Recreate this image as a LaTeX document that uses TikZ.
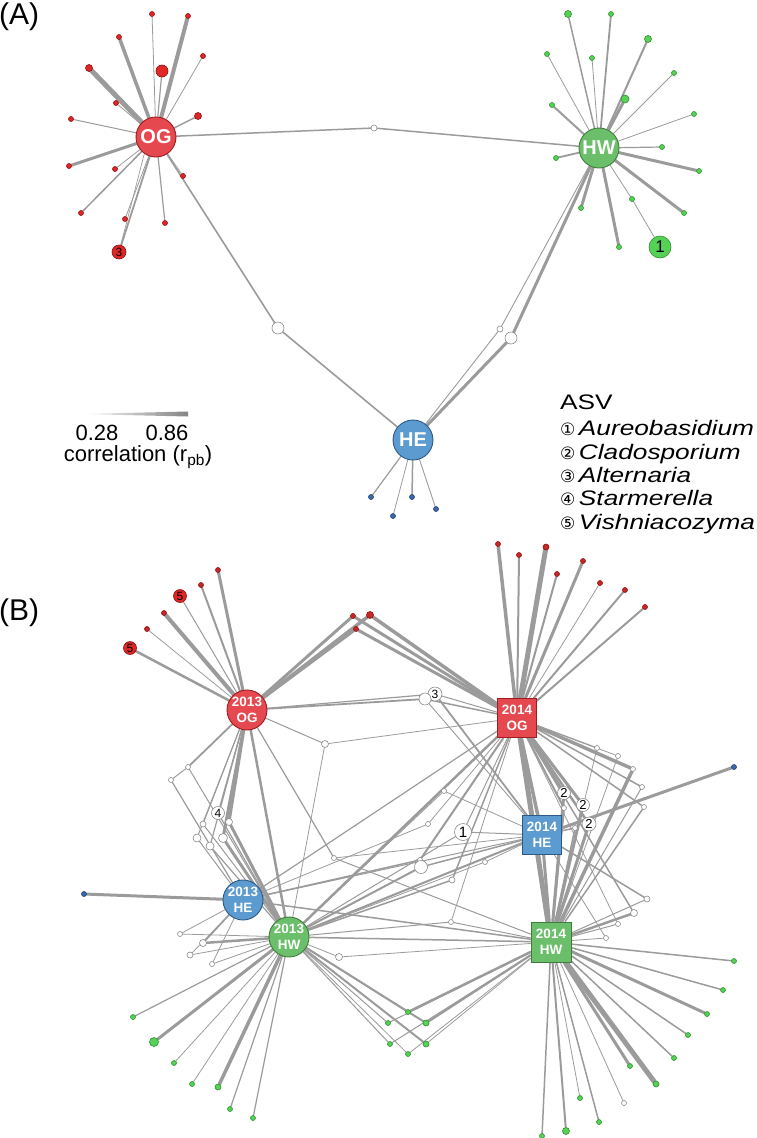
\documentclass[tikz,border=0pt]{standalone}
\usepackage{fontspec}
\setmainfont{Liberation Sans}
\newfontfamily\dejavu{DejaVu Sans}
\newfontfamily\legfont[FakeStretch=1.25]{Liberation Sans}
\pgfdeclarelayer{bg}
\pgfsetlayers{bg,main}
\definecolor{eg}{HTML}{9B9B9B}
\definecolor{mainR}{HTML}{E5494F}
\definecolor{mainRd}{HTML}{9E1B1F}
\definecolor{leafR}{HTML}{E02626}
\definecolor{leafRd}{HTML}{8E1010}
\definecolor{darkR}{HTML}{C62828}
\definecolor{mainG}{HTML}{6CBF6A}
\definecolor{mainGd}{HTML}{3E7D3C}
\definecolor{leafG}{HTML}{55D155}
\definecolor{leafGd}{HTML}{2F8F2F}
\definecolor{mainB}{HTML}{5B9BD0}
\definecolor{mainBd}{HTML}{2C5A85}
\definecolor{leafB}{HTML}{3A68B0}
\definecolor{wd}{HTML}{8A8A8A}
\begin{document}
\begin{tikzpicture}[x=1pt,y=-1pt,
  ln/.style={draw=eg,line width=#1pt,line cap=round}, ln/.default=1,
  base/.style={circle,inner sep=0pt,line width=0.6pt},
  lr/.style={base,fill=leafR,draw=leafRd,minimum size=#1pt}, lr/.default=5,
  lrb/.style={base,fill=darkR,draw=leafRd,minimum size=#1pt}, lrb/.default=5,
  lg/.style={base,fill=leafG,draw=leafGd,minimum size=#1pt}, lg/.default=5,
  lb/.style={base,fill=leafB,draw=leafB!60!black,minimum size=#1pt}, lb/.default=5,
  wn/.style={base,fill=white,draw=wd,minimum size=#1pt}, wn/.default=5,
  bigA/.style={circle,minimum size=40pt,inner sep=0pt,line width=0.9pt,text=white,font=\bfseries\fontsize{20}{20}\selectfont},
  bigB/.style={minimum size=#1pt,inner sep=0pt,line width=0.9pt,text=white,align=center,font=\bfseries\fontsize{13.5}{16.5}\selectfont},
  numf/.style={font=\fontsize{#1}{#1}\selectfont},
  legtxt/.style={anchor=base west,inner sep=0pt,text height=15.5pt,text depth=4.5pt,font=\legfont\fontsize{21}{21}\selectfont}
]
\useasboundingbox (0,0) rectangle (757,1138);

% ================= PANEL A =================
\node[anchor=west,inner sep=0pt,font=\fontsize{30}{30}\selectfont] (labA) at (-1,17) {(A)};

\node[bigA,fill=mainR,draw=mainRd] (OG) at (156,137) {OG};
\node[bigA,fill=mainG,draw=mainGd] (HW) at (599,148) {HW};
\node[bigA,fill=mainB,draw=mainBd] (HE) at (413,440) {HE};

\node[wn=6] (a0) at (374,128) {};
\node[wn=12] (a1) at (278,328) {};
\node[wn=6] (a2) at (500,329) {};
\node[wn=12] (a3) at (511,338) {};

\begin{pgfonlayer}{bg}
\draw[ln=1.5] (OG) -- (a0) -- (HW);
\draw[ln=1.6] (OG) -- (a1) -- (HE);
\draw[ln=0.9] (HW) -- (a2) -- (HE);
\draw[ln=3] (HW) -- (a3) -- (HE);
\draw[ln=1] (a3) -- (HE.45);
\end{pgfonlayer}

\foreach \n/\x/\y/\w/\s in {o1/152/14/0.8/5, o2/188/16/4/5, o3/119/37/3.5/5, o4/203/56/0.8/5, o5/162/71/1.2/12, o6/89/68/5/7, o7/116/103/0.8/5, o8/71/119/1/5, o9/198/116/1.4/7, o10/69/166/3/5, o11/115/169/0.8/5, o12/183/176/0.8/5, o13/81/213/1.5/5, o14/125/219/0.8/5, o15/165/223/1.2/5}{
  \node[lr=\s] (\n) at (\x,\y) {};
  \begin{pgfonlayer}{bg}\draw[ln=\w] (OG) -- (\n);\end{pgfonlayer}
}
\node[lr=14,numf=12] (a3n) at (119,252) {3};
\begin{pgfonlayer}{bg}
\draw[ln=1.8] (OG) -- (a3n);
\draw[ln=0.7] (OG.235) -- (a3n);
\end{pgfonlayer}

\foreach \n/\x/\y/\w/\s in {h1/568/14/1.5/7, h2/611/14/1.8/5, h3/648/39/2/7, h4/547/54/0.8/5, h5/592/58/0.8/5, h6/674/73/0.8/5, h7/625/99/3/8, h8/552/105/2/5, h9/694/114/0.8/5, h10/662/147/1.2/5, h11/556/158/1.8/5, h12/699/171/3/5, h13/632/199/0.8/5, h14/581/208/3/5, h15/684/213/3/5, h16/619/247/3/5}{
  \node[lg=\s] (\n) at (\x,\y) {};
  \begin{pgfonlayer}{bg}\draw[ln=\w] (HW) -- (\n);\end{pgfonlayer}
}
\node[lg=22,numf=17] (a1n) at (660,247) {1};
\begin{pgfonlayer}{bg}\draw[ln=0.8] (h13) -- (a1n);\end{pgfonlayer}

\foreach \n/\x/\y/\w in {e1/371/497/1.2, e2/393/516/0.8, e3/412/497/1.5, e4/436/509/0.8}{
  \node[lb=5] (\n) at (\x,\y) {};
  \begin{pgfonlayer}{bg}\draw[ln=\w] (HE) -- (\n);\end{pgfonlayer}
}

% legend: correlation
\shade[left color=white,right color=eg!85!black] (80,414) -- (188,411.5) -- (188,416.5) -- cycle;
\node[anchor=base,inner sep=0pt,text height=15.5pt,text depth=0pt,font=\fontsize{22}{22}\selectfont] (c1) at (97,440) {0.28};
\node[anchor=base,inner sep=0pt,text height=15.5pt,text depth=0pt,font=\fontsize{22}{22}\selectfont] (c2) at (167,440) {0.86};
\node[anchor=base,inner sep=0pt,text height=15pt,text depth=5pt,font=\fontsize{22}{22}\selectfont] (c3) at (138,461) {correlation (r\textsubscript{pb})};

% legend: ASV
\node[legtxt] (asv) at (560,409) {ASV};
\foreach \k/\c/\t/\y in {1/①/Aureobasidium/435.5, 2/②/Cladosporium/459.5, 3/③/Alternaria/482.5, 4/④/Starmerella/505.5, 5/⑤/Vishniacozyma/529}{
  \node[legtxt] (lg\k) at (560,\y) {{\dejavu\fontsize{17}{17}\selectfont\c}\,\textit{\t}};
}

% ================= PANEL B =================
\node[anchor=west,inner sep=0pt,font=\fontsize{30}{30}\selectfont] (labB) at (-1,613) {(B)};

\node[bigB=40,circle,fill=mainR,draw=mainRd] (O13) at (247,710) {2013\\OG};
\node[bigB=39,rectangle,fill=mainR,draw=mainRd] (O14) at (517,718) {2014\\OG};
\node[bigB=39,rectangle,fill=mainB,draw=mainBd] (E14) at (542,835) {2014\\HE};
\node[bigB=40,rectangle,fill=mainG,draw=mainGd] (W14) at (551,942) {2014\\HW};
\node[bigB=40,circle,fill=mainB,draw=mainBd] (E13) at (243,900) {2013\\HE};
\node[bigB=40,circle,fill=mainG,draw=mainGd] (W13) at (289,937) {2013\\HW};

% red leaves 2013 OG
\foreach \n/\x/\y/\w/\s in {p1/218/570/3/5, p2/201/585/2/5, p4/164/613/4/5, p5/147/629/0.8/5}{
  \node[lrb=\s] (\n) at (\x,\y) {};
  \begin{pgfonlayer}{bg}\draw[ln=\w] (O13) -- (\n);\end{pgfonlayer}
}
\node[lr=13,numf=12] (f1) at (180,596) {5};
\node[lr=13,numf=12] (f2) at (130,648) {5};
% shared red
\node[lrb=5] (r1) at (353,616) {};
\node[lrb=7] (r2) at (370,615) {};
\node[lrb=5] (r3) at (356,629) {};
% red leaves 2014 OG
\foreach \n/\x/\y/\w/\s in {k1/498/544/3.5/5, k2/519/555/2/5, k3/546/547/5/6, k4/557/574/2/5, k5/583/561/3/5, k6/600/583/0.8/5, k7/625/590/2/5, k8/645/607/2/5}{
  \node[lrb=\s] (\n) at (\x,\y) {};
  \begin{pgfonlayer}{bg}\draw[ln=\w] (O14) -- (\n);\end{pgfonlayer}
}

% intermediate white nodes
\node[wn=14,numf=12] (n3) at (435,694) {3};
\node[wn=12] (w3) at (425,699) {};
\node[wn=7] (q0) at (325,744) {};
\node[wn=5] (pp) at (334,858) {};
\node[wn=5] (q1) at (188,767) {};
\node[wn=5] (q2) at (171,780) {};
\node[wn=13,numf=12] (n4) at (218,813) {4};
\node[wn=6] (q3) at (203,824) {};
\node[wn=7] (q4) at (229,822) {};
\node[wn=8] (q5) at (197,838) {};
\node[wn=8] (q6) at (210,846) {};
\node[wn=9] (q7) at (223,838) {};
\node[wn=5] (s1) at (180,934) {};
\node[wn=7] (s2) at (203,943) {};
\node[wn=6] (s3) at (190,955) {};
\node[wn=5] (s4) at (212,964) {};
\node[wn=7] (s5) at (339,957) {};
\node[wn=17,numf=15] (one) at (463,832) {1};
\node[wn=5] (t1) at (428,824) {};
\node[wn=5] (t7) at (444,791) {};
\node[wn=5] (t2) at (420,860) {};
\node[wn=13] (t3) at (421,867) {};
\node[wn=6] (t4) at (452,880) {};
\node[wn=5] (t5) at (485,862) {};
\node[wn=5] (t6) at (451,922) {};
\node[wn=5] (u1) at (597,748) {};
\node[wn=5] (u2) at (618,756) {};
\node[wn=5] (u3) at (633,769) {};
\node[wn=5] (u4) at (642,787) {};
\node[wn=5] (u5) at (644,807) {};
\node[wn=6] (v1) at (647,899) {};
\node[wn=7] (v2) at (634,913) {};
\node[wn=5] (v3) at (618,924) {};
\node[wn=5] (v4) at (606,938) {};
\node[wn=13,numf=13] (c1) at (564,793) {2};
\node[wn=13,numf=13] (c2) at (583,805) {2};
\node[wn=14,numf=13] (c3) at (589,824) {2};
\node[wn=5] (d1) at (564,808) {};
\node[wn=5] (d2) at (575,828) {};

% blue leaves
\node[lb=5] (bl1) at (84,894) {};
\node[lb=5] (bl2) at (734,767) {};

% green leaves 2013 HW
\foreach \n/\x/\y/\w/\s in {m1/133/1017/1.2/5, m2/154/1042/3/9, m3/174/1063/0.8/5, m4/192/1084/0.8/5, m5/218/1087/3.5/6, m6/230/1109/1.2/5, m7/253/1118/1.2/5}{
  \node[lg=\s] (\n) at (\x,\y) {};
  \begin{pgfonlayer}{bg}\draw[ln=\w] (W13) -- (\n);\end{pgfonlayer}
}
% green leaves 2014 HW
\foreach \n/\x/\y/\w/\s in {z1/734/961/1.5/5, z2/723/990/1.5/5, z3/707/1014/3/5, z4/688/1035/1.5/5, z5/674/1058/1.5/5, z6/656/1084/5/6, z7/630/1066/3/5, z9/580/1098/0.8/5, z10/599/1122/1.5/5, z11/566/1131/2/7, z12/542/1136/1.5/5}{
  \node[lg=\s] (\n) at (\x,\y) {};
  \begin{pgfonlayer}{bg}\draw[ln=\w] (W14) -- (\n);\end{pgfonlayer}
}
\node[wn=5] (z8) at (624,1103) {};
% shared green lattice
\foreach \n/\x/\y/\wa/\wb/\s in {g1/408/1012/1.5/2.5/5, g2/388/1023/1/1/5, g3/426/1023/2/2.2/6, g4/390/1044/1/1/5, g5/426/1044/2/0.8/6, g6/408/1054/0.8/0.8/5}{
  \node[lg=\s] (\n) at (\x,\y) {};
  \begin{pgfonlayer}{bg}\draw[ln=\wa] (W13) -- (\n); \draw[ln=\wb] (W14) -- (\n);\end{pgfonlayer}
}

\begin{pgfonlayer}{bg}
\foreach \a/\b/\w in {O13/f1/1, O13/f2/2.5,
  O13/r1/3, O13/r2/3.5, O13/r3/3, O14/r1/3, O14/r2/3.5, O14/r3/3,
  O13/w3/1.8, O13/n3/1.2, w3/O14/1.5, n3/O14/1, n3/E14/1.8, w3/E14/0.9,
  O13/q0/1, q0/O14/0.8, q0/W13/0.8,
  O13/pp/1.2, pp/E14/0.8, pp/W14/1,
  O13/q1/1.8, q1/q2/1, q1/W13/1, q2/E13/1.2,
  O13/n4/1.2, n4/W13/1.2, O13/q3/1, q3/W13/1, O13/q4/3, q4/W13/3,
  O13/q5/1, q5/E13/1, O13/q6/1.2, q6/W13/1.2, O13/q7/3, q7/W13/3, O13/W13/2.5,
  E13/bl1/3,
  W13/s1/0.8, s1/E13/0.8, W13/s2/2.5, s2/E13/1.5, W13/s3/0.8, s3/E13/0.8, W13/s4/0.8, s4/E13/0.8,
  W13/s5/0.8, s5/W14/0.8,
  W13/O14/2.5, W13/E14/2, W13/W14/1.5, E13/O14/1.2, E13/E14/1, E13/W14/1.5,
  one/E14/1, one/W13/1, one/O14/1,
  E13/t1/0.8, t1/O14/0.8, W13/t7/0.8, t7/E14/0.8,
  E13/t2/1.5, t2/O14/2, W13/t3/2, t3/E14/1.5, W13/t4/1.5, t4/O14/1.5,
  W13/t5/0.8, t5/E14/0.8, W13/t6/1, t6/O14/0.8, t6/W14/1,
  O14/u1/1.2, u1/W14/0.8, O14/u2/0.8, u2/W14/0.8, O14/u3/3.5, u3/W14/3.5,
  O14/u4/1.5, u4/W14/1, O14/u5/1.5, u5/W14/1.5,
  E14/v1/1.5, v1/W14/1, O14/v2/1.5, v2/W14/2.5, O14/v3/0.8, v3/W14/1, E14/v4/0.8, v4/W14/0.8,
  O14/c1/3, c1/W14/3, O14/c2/3, c2/W14/3, O14/c3/2.5, c3/W14/3,
  O14/d1/2, d1/W14/2, E14/d2/1.5, d2/W14/1.5,
  O14/E14/3.5, O14/W14/5, E14/W14/3, E14/bl2/3, W14/z8/0.8}{
  \draw[ln=\w] (\a) -- (\b);
}
\end{pgfonlayer}
\end{tikzpicture}
\end{document}
